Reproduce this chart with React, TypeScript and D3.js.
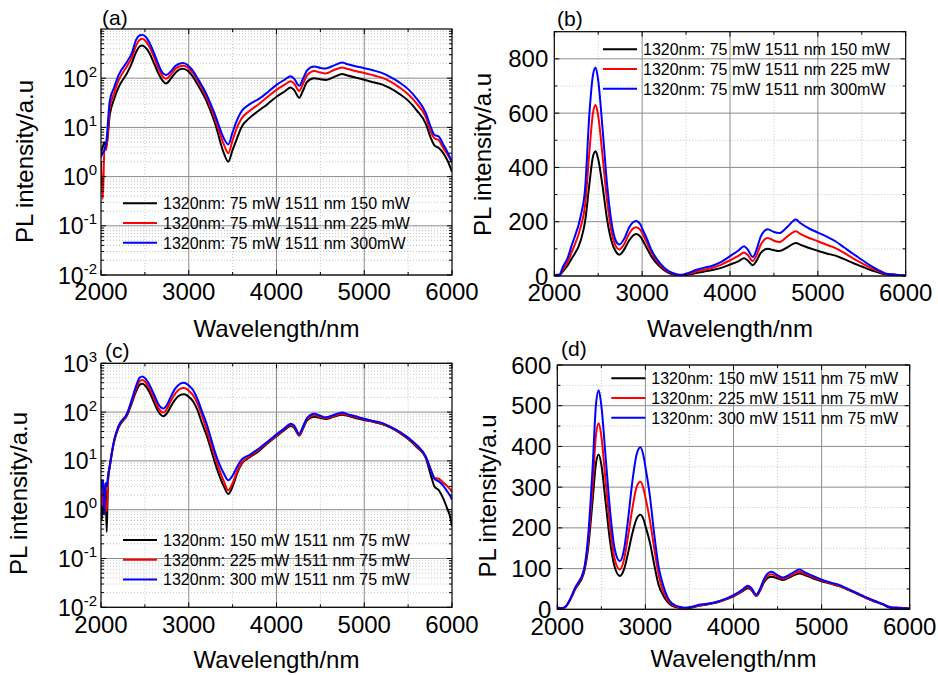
import React from "react";
import * as d3 from "d3";

// ---------- DATA ----------
// Panels (a),(b): 1320 nm fixed at 75 mW, 1511 nm varied
const wlAB = [2000, 2020, 2040, 2060, 2100, 2150, 2200, 2300, 2350, 2400, 2440, 2470, 2500, 2550, 2600, 2650, 2700, 2740, 2800, 2850, 2930, 2980, 3000, 3050, 3100, 3200, 3300, 3400, 3450, 3500, 3550, 3600, 3700, 3800, 3900, 4000, 4100, 4160, 4200, 4260, 4300, 4350, 4430, 4500, 4560, 4650, 4750, 4800, 4900, 5000, 5100, 5200, 5300, 5400, 5500, 5600, 5700, 5760, 5800, 5850, 5900, 5950, 6000];
const blackAB = [3, 4, 5, 4, 18, 38, 65, 130, 200, 340, 440, 460, 430, 330, 210, 130, 90, 78, 100, 130, 155, 145, 135, 105, 75, 35, 12, 3, 2, 3.5, 6, 10, 16, 22, 30, 42, 55, 65, 58, 40, 55, 85, 100, 95, 92, 105, 122, 115, 103, 93, 83, 75, 62, 48, 35, 22, 12, 6, 4.3, 3.8, 3, 2.1, 1.25];
const redAB = [2, 0.35, 4, 3.5, 25, 50, 90, 180, 260, 460, 600, 630, 590, 440, 280, 165, 110, 98, 120, 155, 180, 170, 158, 125, 90, 42, 15, 4.5, 3, 5.5, 10, 15, 22, 30, 42, 58, 75, 87, 78, 55, 75, 115, 140, 130, 125, 145, 165, 155, 140, 128, 115, 103, 85, 65, 47, 30, 16.5, 8, 6, 5.5, 3.8, 2.8, 1.9];
const blueAB = [2.5, 3, 3.5, 5, 35, 65, 115, 220, 320, 600, 740, 768, 720, 540, 340, 200, 130, 116, 140, 178, 203, 190, 175, 140, 100, 48, 18, 6, 4.5, 8, 14, 21, 30, 38, 52, 73, 95, 110, 98, 70, 95, 145, 172, 162, 158, 180, 208, 195, 175, 160, 145, 128, 105, 82, 60, 38, 20, 10, 7, 6.5, 4.5, 3.1, 2];

// Panels (c),(d): 1511 nm fixed at 75 mW, 1320 nm varied
const wlCD = [2000, 2010, 2025, 2035, 2050, 2065, 2080, 2100, 2150, 2200, 2300, 2350, 2400, 2440, 2470, 2500, 2550, 2600, 2650, 2710, 2760, 2800, 2850, 2900, 2943, 2980, 3000, 3050, 3100, 3150, 3200, 3250, 3300, 3400, 3450, 3500, 3550, 3600, 3700, 3800, 3900, 4000, 4100, 4160, 4200, 4260, 4300, 4350, 4430, 4500, 4560, 4650, 4750, 4800, 4900, 5000, 5100, 5200, 5300, 5400, 5500, 5600, 5700, 5760, 5800, 5850, 5900, 5950, 5980, 6000];
const blackCD = [1.5, 0.6, 3.5, 0.8, 3.5, 0.35, 4, 7.5, 25, 48, 88, 150, 265, 360, 380, 355, 260, 165, 105, 82, 100, 135, 185, 222, 232, 220, 205, 165, 110, 60, 35, 18, 9, 3, 2.1, 3, 5.5, 8.5, 12, 16, 23, 32, 44, 52, 48, 33, 45, 68, 80, 76, 72, 80, 88, 85, 76, 69, 63, 57, 48, 38, 28, 19, 11.5, 5, 3, 2.5, 1.7, 1.0, 0.7, 0.45];
const redCD = [3, 1.2, 2.5, 3, 1, 0.95, 4, 8, 26, 50, 92, 165, 300, 430, 457, 425, 310, 200, 125, 98, 125, 175, 245, 300, 313, 295, 275, 220, 150, 85, 45, 23, 12, 3.8, 2.5, 3.5, 6, 9, 12.5, 17, 24, 33, 46, 55, 50, 34, 47, 72, 86, 80, 75, 83, 92, 88, 79, 71, 64, 58, 49, 39, 29, 20, 12, 6.5, 4.5, 4.3, 3.6, 3.0, 2.6, 2.3];
const blueCD = [2.5, 4, 4, 0.8, 3.5, 3, 5, 8, 27, 52, 96, 180, 345, 505, 538, 500, 370, 240, 150, 118, 150, 215, 310, 380, 398, 375, 350, 280, 185, 105, 60, 30, 15, 5.5, 4, 5, 7.5, 10.5, 13.5, 18, 25, 35, 48, 58, 53, 36, 50, 76, 92, 84, 78, 87, 98, 92, 82, 73, 66, 60, 50, 40, 30, 21, 12.5, 6.5, 4.3, 3.8, 3.1, 2.3, 1.9, 1.6];

const legendAB = ["1320nm: 75 mW 1511 nm 150 mW", "1320nm: 75 mW 1511 nm 225 mW", "1320nm: 75 mW 1511 nm 300mW"];
const legendCD = ["1320nm: 150 mW 1511 nm 75 mW", "1320nm: 225 mW 1511 nm 75 mW", "1320nm: 300 mW 1511 nm 75 mW"];
const seriesColors = ["#000000", "#ff0000", "#0000ff"];

const xTicks = [2000, 3000, 4000, 5000, 6000];
const xMinor = [2500, 3500, 4500, 5500];
const logExpA = [-2, -1, 0, 1, 2];
const logExpC = [-2, -1, 0, 1, 2, 3];
const linTicksB = [0, 200, 400, 600, 800];
const linMinorB = [100, 300, 500, 700, 900];
const linTicksD = [0, 100, 200, 300, 400, 500, 600];
const linMinorD = [50, 150, 250, 350, 450, 550];

const FONT = "'Liberation Sans', Arial, Helvetica, sans-serif";

type PanelProps = {
  id: string;
  left: number; right: number; top: number; bottom: number;
  log: boolean;
  yDomain: [number, number];
  yTicks: number[];
  yMinor: number[];
  logExp?: number[];
  wl: number[];
  series: number[][];
  legend: string[];
  legX: number; legY: number;
  label: string; labelX: number; labelY: number;
  yLabX: number; yLabY: number;
  xLabY: number; xTickY: number;
};

function Panel(p: PanelProps) {
  const x = d3.scaleLinear().domain([2000, 6000]).range([p.left, p.right]);
  const y = p.log
    ? d3.scaleLog().domain(p.yDomain).range([p.bottom, p.top])
    : d3.scaleLinear().domain(p.yDomain).range([p.bottom, p.top]);
  const line = d3
    .line<[number, number]>()
    .x((d) => x(d[0]))
    .y((d) => y(d[1]))
    .curve(d3.curveMonotoneX);
  const clipId = "clip-" + p.id;
  const majorY = p.log ? (p.logExp || []).map((e) => Math.pow(10, e)) : p.yTicks;
  return (
    <g>
      <defs>
        <clipPath id={clipId}>
          <rect x={p.left} y={p.top} width={p.right - p.left} height={p.bottom - p.top} />
        </clipPath>
      </defs>
      {/* minor grid */}
      {xMinor.map((v) => (
        <line key={"xm" + v} x1={x(v)} x2={x(v)} y1={p.top} y2={p.bottom} stroke="#b8b8b8" strokeWidth={0.8} strokeDasharray="1,2" />
      ))}
      {p.yMinor.map((v, i) => (
        <line key={"ym" + i} x1={p.left} x2={p.right} y1={y(v)} y2={y(v)} stroke="#b8b8b8" strokeWidth={0.8} strokeDasharray="1,2" />
      ))}
      {/* major grid */}
      {xTicks.slice(1, -1).map((v) => (
        <line key={"xg" + v} x1={x(v)} x2={x(v)} y1={p.top} y2={p.bottom} stroke="#8c8c8c" strokeWidth={1} />
      ))}
      {majorY.map((v, i) => (
        <line key={"yg" + i} x1={p.left} x2={p.right} y1={y(v)} y2={y(v)} stroke="#8c8c8c" strokeWidth={1} />
      ))}
      {/* curves */}
      <g clipPath={`url(#${clipId})`}>
        {p.series.map((s, i) => (
          <path
            key={"s" + i}
            d={line(p.wl.map((w, j) => [w, s[j]] as [number, number])) || ""}
            fill="none"
            stroke={seriesColors[i]}
            strokeWidth={2}
            strokeLinejoin="round"
          />
        ))}
      </g>
      {/* frame */}
      <rect x={p.left} y={p.top} width={p.right - p.left} height={p.bottom - p.top} fill="none" stroke="#000" strokeWidth={1.2} />
      {/* ticks */}
      {xTicks.map((v) => (
        <g key={"xt" + v}>
          <line x1={x(v)} x2={x(v)} y1={p.bottom} y2={p.bottom - 5} stroke="#000" />
          <line x1={x(v)} x2={x(v)} y1={p.top} y2={p.top + 5} stroke="#000" />
        </g>
      ))}
      {xMinor.map((v) => (
        <g key={"xmt" + v}>
          <line x1={x(v)} x2={x(v)} y1={p.bottom} y2={p.bottom - 3} stroke="#000" />
          <line x1={x(v)} x2={x(v)} y1={p.top} y2={p.top + 3} stroke="#000" />
        </g>
      ))}
      {majorY.map((v, i) => (
        <g key={"yt" + i}>
          <line x1={p.left} x2={p.left + 5} y1={y(v)} y2={y(v)} stroke="#000" />
          <line x1={p.right} x2={p.right - 5} y1={y(v)} y2={y(v)} stroke="#000" />
        </g>
      ))}
      {p.yMinor.map((v, i) => (
        <g key={"ymt" + i}>
          <line x1={p.left} x2={p.left + 3} y1={y(v)} y2={y(v)} stroke="#000" />
          <line x1={p.right} x2={p.right - 3} y1={y(v)} y2={y(v)} stroke="#000" />
        </g>
      ))}
      {/* x tick labels */}
      {xTicks.map((v) => (
        <text key={"xl" + v} x={x(v)} y={p.xTickY} textAnchor="middle" fontSize={24} fontFamily={FONT} fill="#000">
          {v}
        </text>
      ))}
      {/* y tick labels */}
      {p.log
        ? (p.logExp || []).map((e) => (
            <text key={"yl" + e} x={p.left - 4} y={y(Math.pow(10, e)) + 8.5} textAnchor="end" fontSize={23} fontFamily={FONT} fill="#000">
              10
              <tspan fontSize={15} dy={-10}>{String(e)}</tspan>
            </text>
          ))
        : p.yTicks.map((v) => (
            <text key={"yl" + v} x={p.left - 6} y={y(v) + 8.5} textAnchor="end" fontSize={24} fontFamily={FONT} fill="#000">
              {v}
            </text>
          ))}
      {/* axis titles */}
      <text x={(p.left + p.right) / 2} y={p.xLabY} textAnchor="middle" fontSize={24} fontFamily={FONT} fill="#000">
        Wavelength/nm
      </text>
      <text
        transform={`translate(${p.yLabX},${p.yLabY}) rotate(-90)`}
        textAnchor="middle"
        fontSize={24}
        fontFamily={FONT}
        fill="#000"
      >
        PL intensity/a.u
      </text>
      {/* panel label */}
      <text x={p.labelX} y={p.labelY} fontSize={21} fontFamily={FONT} fill="#000">
        {p.label}
      </text>
      {/* legend */}
      {p.legend.map((t, i) => (
        <g key={"lg" + i}>
          <line x1={p.legX} x2={p.legX + 34} y1={p.legY + i * 19.7} y2={p.legY + i * 19.7} stroke={seriesColors[i]} strokeWidth={2} />
          <text x={p.legX + 40} y={p.legY + i * 19.7 + 6} fontSize={16} fontFamily={FONT} fill="#000">
            {t}
          </text>
        </g>
      ))}
    </g>
  );
}

const logMinor: number[] = [];
[-2, -1, 0, 1, 2].forEach((e) => {
  for (let k = 2; k <= 9; k++) logMinor.push(k * Math.pow(10, e));
});

export default function App() {
  return (
    <svg width={938} height={675} style={{ position: "absolute", left: 0, top: 0, background: "#fff" }}>
      <rect x={0} y={0} width={938} height={675} fill="#fff" />
      <Panel
        id="a" left={101} right={452} top={29} bottom={275} log={true}
        yDomain={[0.01, 1000]} yTicks={[]} yMinor={logMinor} logExp={logExpA}
        wl={wlAB} series={[blackAB, redAB, blueAB]} legend={legendAB}
        legX={123} legY={203.3}
        label="(a)" labelX={102} labelY={25}
        yLabX={33} yLabY={161.5} xLabY={337} xTickY={300}
      />
      <Panel
        id="b" left={554.3} right={905.7} top={31.7} bottom={276} log={false}
        yDomain={[0, 900]} yTicks={linTicksB} yMinor={linMinorB}
        wl={wlAB} series={[blackAB, redAB, blueAB]} legend={legendAB}
        legX={603} legY={49.3}
        label="(b)" labelX={557} labelY={26}
        yLabX={491} yLabY={154.5} xLabY={337} xTickY={301}
      />
      <Panel
        id="c" left={101} right={452} top={363.3} bottom={607.3} log={true}
        yDomain={[0.01, 1000]} yTicks={[]} yMinor={logMinor} logExp={logExpC}
        wl={wlCD} series={[blackCD, redCD, blueCD]} legend={legendCD}
        legX={123} legY={540}
        label="(c)" labelX={105} labelY={358}
        yLabX={27} yLabY={493.5} xLabY={668} xTickY={633}
      />
      <Panel
        id="d" left={557.3} right={909.7} top={365} bottom={609.3} log={false}
        yDomain={[0, 600]} yTicks={linTicksD} yMinor={linMinorD}
        wl={wlCD} series={[blackCD, redCD, blueCD]} legend={legendCD}
        legX={611.3} legY={378.3}
        label="(d)" labelX={561} labelY={356}
        yLabX={496} yLabY={496} xLabY={667} xTickY={635}
      />
    </svg>
  );
}
